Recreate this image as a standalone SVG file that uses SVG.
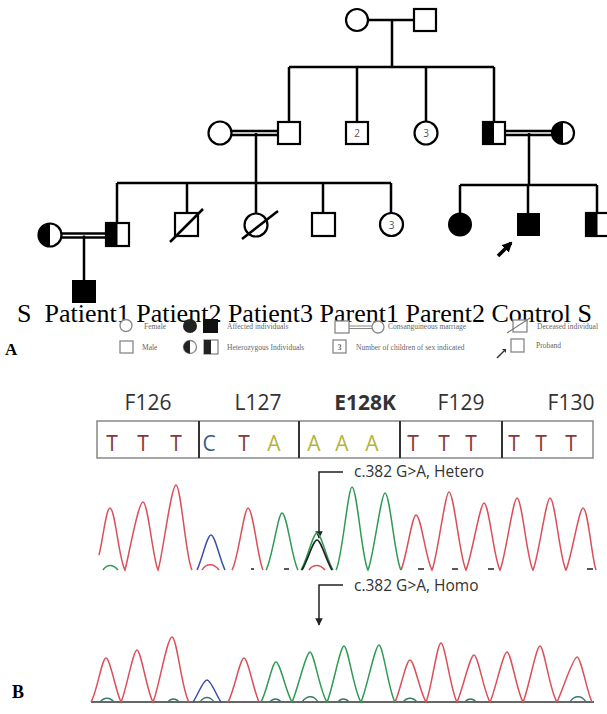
<svg xmlns="http://www.w3.org/2000/svg" width="607" height="714" viewBox="0 0 607 714">
<defs>
<style>
.ln{stroke:#000;stroke-width:2.5;fill:none}
.sym{stroke:#000;stroke-width:2.2;fill:#fff}
.fill{fill:#000}
.num{font-family:"Open Sans","Liberation Sans",sans-serif;font-size:10px;fill:#555;text-anchor:middle}
.lab{font-family:"Liberation Serif","Times New Roman",serif;font-size:26px;fill:#000}
.lg{font-family:"Liberation Serif","Times New Roman",serif;font-size:7.5px;fill:#666}
.lgs{stroke:#888;stroke-width:1.3;fill:#fff}
.aa{font-family:"Open Sans","Liberation Sans",sans-serif;font-size:21px;fill:#333;text-anchor:middle}
.nt{font-family:"Open Sans","Liberation Sans",sans-serif;font-size:21px;text-anchor:middle}
.T{fill:#8b3535}.C{fill:#3d5a85}.A{fill:#b4b43c}
.ann{font-family:"Open Sans","Liberation Sans",sans-serif;font-size:15.5px;fill:#333}
.pr{stroke:#d9505a;stroke-width:1.5;fill:none}
.pg{stroke:#2f9a55;stroke-width:1.5;fill:none}
.pb{stroke:#3c4fa8;stroke-width:1.5;fill:none}
.pk{stroke:#222;stroke-width:1.7;fill:none}
.big{font-family:"Liberation Serif","Times New Roman",serif;font-weight:bold;fill:#000}
</style>
<marker id="ah" viewBox="0 0 10 10" refX="9" refY="5" markerWidth="5" markerHeight="5" orient="auto"><path d="M0,0 L10,5 L0,10 z" fill="#222"/></marker>
<marker id="pa" viewBox="0 0 10 10" refX="8" refY="5" markerWidth="3" markerHeight="3" orient="auto"><path d="M0,0 L10,5 L0,10 z" fill="#000"/></marker>
</defs>

<g id="connectors">
<path class="ln" d="M368,20 H414 M392,20 V67 M289,67 H494 M289,67 V122 M357,67 V122 M426,67 V122 M494,67 V122"/>
<path class="ln" d="M232,131 H278 M232,135 H278" stroke-width="2"/>
<path class="ln" d="M256,133 V183 M117,183 H391 M117,183 V223 M187,183 V213 M256,183 V213 M323,183 V213 M391,183 V213"/>
<path class="ln" d="M505,131 H552 M505,135 H552" stroke-width="2"/>
<path class="ln" d="M529,133 V185 M460,185 H597 M460,185 V213 M528,185 V213 M597,185 V213"/>
<path class="ln" d="M61,233.5 H106 M61,237.5 H106" stroke-width="2"/>
<path class="ln" d="M84,235.5 V280"/>
</g>

<g id="gen1-female"><circle class="sym" cx="357" cy="20" r="11"/></g>
<g id="gen1-male"><rect class="sym" x="414" y="9" width="22" height="22"/></g>

<g id="gen2-wife"><circle class="sym" cx="220" cy="133" r="11.5"/></g>
<g id="gen2-husband"><rect class="sym" x="278" y="122" width="22" height="22"/></g>
<g id="gen2-males2"><rect class="sym" x="346" y="122" width="22" height="22"/><text class="num" x="357" y="137">2</text></g>
<g id="gen2-females3"><circle class="sym" cx="426" cy="133" r="11.5"/><text class="num" x="426" y="137">3</text></g>
<g id="gen2-hetmale"><rect class="sym" x="483" y="122" width="22" height="22"/><rect class="fill" x="483" y="122" width="11" height="22"/></g>
<g id="gen2-hetfemale"><circle class="sym" cx="563" cy="133" r="11"/><path class="fill" d="M563,122 A11,11 0 0 0 563,144 Z"/></g>

<g id="gen3-hetfemale"><circle class="sym" cx="50" cy="235" r="11.5"/><path class="fill" d="M50,223.5 A11.5,11.5 0 0 0 50,246.5 Z"/></g>
<g id="gen3-hetmale"><rect class="sym" x="106" y="223" width="23" height="23"/><rect class="fill" x="106" y="223" width="11.5" height="23"/></g>
<g id="gen3-deceased-male"><rect class="sym" x="175" y="213" width="23" height="23"/><path class="ln" d="M170,242 L203,209" stroke-width="2"/></g>
<g id="gen3-deceased-female"><circle class="sym" cx="256" cy="225" r="11.5"/><path class="ln" d="M242,239 L278,211" stroke-width="2"/></g>
<g id="gen3-male"><rect class="sym" x="312" y="213" width="23" height="23"/></g>
<g id="gen3-females3"><circle class="sym" cx="391.5" cy="224.5" r="11.5"/><text class="num" x="391.5" y="228.5">3</text></g>
<g id="gen3-affected-female"><circle class="fill" cx="460" cy="224.5" r="12"/></g>
<g id="gen3-proband"><rect class="fill" x="517" y="213" width="23" height="23"/><path d="M498,256 L511,243" stroke="#000" stroke-width="3.5" marker-end="url(#pa)"/></g>
<g id="gen3-hetmale-right"><rect class="sym" x="586" y="213" width="23" height="23"/><rect class="fill" x="586" y="213" width="11.5" height="23"/></g>
<g id="gen4-affected-male"><rect class="fill" x="72" y="280" width="24" height="23"/></g>

<g id="labels"><text class="lab" x="17" y="322" xml:space="preserve">S  Patient1 Patient2 Patient3 Parent1 Parent2 Control S</text></g>

<g id="legend">
<circle class="lgs" cx="126" cy="325.5" r="6"/><text class="lg" x="144" y="329">Female</text>
<circle cx="190" cy="326" r="7" fill="#222"/><rect x="203" y="319" width="15" height="14" fill="#111"/><text class="lg" x="227" y="329">Affected individuals</text>
<rect class="lgs" x="335" y="321" width="14" height="12"/><path d="M349,326 H372 M349,328.5 H372" stroke="#888" stroke-width="1.2"/><circle class="lgs" cx="378" cy="327" r="6"/><text class="lg" x="388" y="329">Consanguineous marriage</text>
<rect class="lgs" x="513" y="320" width="14" height="12"/><path d="M507,333 L530,318" stroke="#777" stroke-width="1.2"/><text class="lg" x="537" y="329">Deceased individual</text>
<rect class="lgs" x="120" y="341" width="13" height="12"/><text class="lg" x="142" y="350">Male</text>
<circle class="lgs" cx="190" cy="347" r="6.5"/><path d="M190,340.5 A6.5,6.5 0 0 0 190,353.5 Z" fill="#222"/>
<rect class="lgs" x="204" y="340" width="14" height="14"/><rect x="204" y="340" width="7" height="14" fill="#222"/><text class="lg" x="227" y="350">Heterozygous Individuals</text>
<rect class="lgs" x="333" y="340" width="13" height="13"/><text class="lg" x="339.5" y="350" text-anchor="middle" font-family="Liberation Sans,sans-serif" font-weight="bold">3</text><text class="lg" x="356" y="350">Number of children of sex indicated</text>
<path d="M497,358 L504,351" stroke="#333" stroke-width="1.5"/><path d="M502,349 L506,349 L506,353 Z" fill="#333"/>
<rect class="lgs" x="511" y="339" width="13" height="13"/><text class="lg" x="536" y="348">Proband</text>
<text class="big" x="5" y="355" font-size="17">A</text>
</g>

<g id="panelB">
<text class="aa" x="148" y="410">F126</text>
<text class="aa" x="258" y="410">L127</text>
<text class="aa" x="365" y="410" font-weight="bold" fill="#111">E128K</text>
<text class="aa" x="461" y="410">F129</text>
<text class="aa" x="571" y="410">F130</text>
<rect x="97" y="421" width="496" height="37" fill="#fff" stroke="#888" stroke-width="1.5"/>
<path d="M199,421 V458 M299,421 V458 M400,421 V458 M502,421 V458" stroke="#333" stroke-width="2"/>
<g class="nt">
<text class="T" x="112" y="451">T</text><text class="T" x="143" y="451">T</text><text class="T" x="176" y="451">T</text>
<text class="C" x="209" y="451">C</text><text class="T" x="244" y="451">T</text><text class="A" x="274" y="451">A</text>
<text class="A" x="314" y="451">A</text><text class="A" x="342" y="451">A</text><text class="A" x="372" y="451">A</text>
<text class="T" x="413" y="451">T</text><text class="T" x="444" y="451">T</text><text class="T" x="471" y="451">T</text>
<text class="T" x="514" y="451">T</text><text class="T" x="541" y="451">T</text><text class="T" x="571" y="451">T</text>
</g>
<path d="M343,472 H319 V538" stroke="#222" stroke-width="1.5" fill="none" marker-end="url(#ah)"/>
<text class="ann" x="354" y="477">c.382 G&gt;A, Hetero</text>

<g id="chrom1">
<path class="pg" d="M103,570 C107,564 113,564 118,570"/>
<path class="pr" d="M202,570 C206,563 214,563 219,570"/>
<path class="pr" d="M309,570 C313,564 320,564 325,570"/>
<path d="M251,569 h3 M284,569 h5 M418,569 h6 M452,569 h6 M488,569 h6 M587,569 h6" stroke="#222" stroke-width="1.6"/>
<path class="pr" d="M99,555 C103,540 106,508 110,508 C115,508 119,560 125,570 C128,560 138,502 143,502 C148,502 153,560 158,570 C162,560 171,485 176,485 C181,485 186,560 192,570"/>
<path class="pb" d="M197,570 C202,560 207,535 211,535 C215,535 220,560 225,570"/>
<path class="pr" d="M232,570 C238,560 244,508 248,508 C253,508 258,560 263,570"/>
<path class="pg" d="M266,570 C272,560 278,513 282,513 C287,513 292,560 298,570"/>
<path class="pg" d="M301,570 C307,560 313,533 317,533 C321,533 327,560 333,570"/>
<path class="pk" d="M302,570 C308,560 313,540 317,540 C321,540 326,560 332,570"/>
<path class="pg" d="M336,570 C342,560 348,487 352,487 C357,487 362,560 368,570 C373,560 381,493 385,493 C390,493 395,560 401,570"/>
<path class="pr" d="M401,570 C406,560 412,515 416,515 C421,515 426,560 432,570 C437,560 445,492 449,492 C454,492 460,560 466,570 C471,560 480,503 484,503 C489,503 494,560 500,570 C505,560 513,498 517,498 C522,498 527,560 533,570 C538,560 546,498 550,498 C555,498 560,560 566,570 C571,560 579,508 583,508 C588,508 592,560 596,570"/>
</g>

<path d="M343,585 H319 V625" stroke="#222" stroke-width="1.5" fill="none" marker-end="url(#ah)"/>
<text class="ann" x="354" y="591">c.382 G&gt;A, Homo</text>

<g id="chrom2">
<path d="M91,702 H594" stroke="#333" stroke-width="1.4"/>
<path d="M100,702 c4,-5 10,-5 14,0 M168,702 c3,-4 8,-4 11,0 M200,702 c4,-6 10,-6 14,0 M270,702 c3,-4 8,-4 11,0 M302,702 c5,-7 12,-7 16,0 M338,702 c3,-4 8,-4 11,0 M403,702 c4,-5 10,-5 14,0 M465,702 c3,-4 8,-4 11,0 M570,702 c4,-7 12,-7 16,0" stroke="#3a7a6a" stroke-width="1.3" fill="none"/>
<path class="pr" d="M91,702 C97,692 102,658 106,658 C110,658 116,692 121,702 C126,692 133,650 137,650 C141,650 147,692 153,702 C158,692 167,637 172,637 C177,637 182,692 189,702"/>
<path class="pb" d="M193,702 C198,695 203,680 207,680 C211,680 216,695 221,702"/>
<path class="pr" d="M228,702 C234,692 240,658 244,658 C248,658 254,692 259,702"/>
<path class="pg" d="M261,702 C267,692 272,662 276,662 C280,662 286,692 292,702 C297,692 306,652 310,652 C314,652 320,692 327,702 C332,692 340,646 344,646 C348,646 354,692 361,702 C366,692 375,645 379,645 C383,645 389,692 395,702"/>
<path class="pr" d="M395,702 C400,692 406,660 410,660 C414,660 420,692 426,702 C431,692 437,643 441,643 C445,643 451,692 457,702 C462,692 470,655 474,655 C478,655 484,692 490,702 C495,692 503,652 507,652 C511,652 517,692 523,702 C528,692 536,646 540,646 C544,646 550,692 557,702 C562,692 573,657 577,657 C581,657 587,692 592,702"/>
</g>
<text class="big" x="12" y="698" font-size="18">B</text>
</g>
</svg>
